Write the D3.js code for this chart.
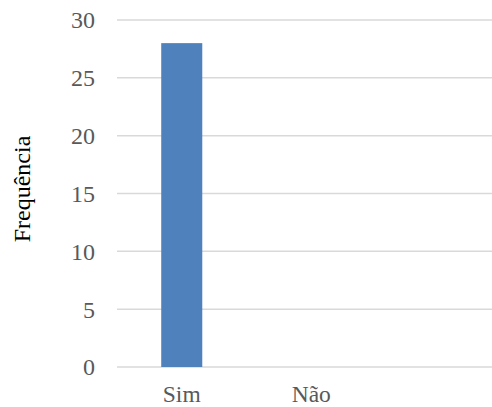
<!DOCTYPE html>
<html><head><meta charset="utf-8">
<script src="https://cdn.jsdelivr.net/npm/d3@7"></script>
<style>body{margin:0;background:#fff}</style>
</head><body>
<svg id="c" width="492" height="407"></svg>
<script>
const categories = ["Sim", "Não", ""];
const values = [28, 0, null];
const yTicks = [0, 5, 10, 15, 20, 25, 30];
const yTitle = "Frequência";

(function(){
const svg = d3.select("#c");
const mLeft = 117, mRight = 505.5, mTop = 20, mBottom = 367;
const x = d3.scaleBand().domain(categories.map((d,i)=>i)).range([mLeft, mRight]).padding(0);
const y = d3.scaleLinear().domain([0, 30]).range([mBottom, mTop]);

svg.append("g").selectAll("line").data(yTicks).join("line")
  .attr("x1", mLeft).attr("x2", 492)
  .attr("y1", d => y(d)).attr("y2", d => y(d))
  .attr("stroke", "#d9d9d9").attr("stroke-width", 1.5);

const barFrac = 0.317;
svg.append("g").selectAll("rect").data(values.map((v,i)=>({v,i})).filter(d=>d.v)).join("rect")
  .attr("x", d => x(d.i) + x.bandwidth()*(1-barFrac)/2)
  .attr("width", x.bandwidth()*barFrac)
  .attr("y", d => y(d.v))
  .attr("height", d => y(0) - y(d.v))
  .attr("fill", "#4f81bd");

svg.append("g").selectAll("text").data(yTicks).join("text")
  .attr("x", 95).attr("y", d => y(d)).attr("dy", "0.35em")
  .attr("text-anchor", "end")
  .attr("font-family", "Liberation Serif, serif").attr("font-size", 24)
  .attr("fill", "#595959").text(d => d);

svg.append("g").selectAll("text").data(categories).join("text")
  .attr("x", (d,i) => x(i) + x.bandwidth()/2).attr("y", 402)
  .attr("text-anchor", "middle")
  .attr("font-family", "Liberation Serif, serif").attr("font-size", 23.5)
  .attr("fill", "#595959").text(d => d);

svg.append("text")
  .attr("transform", `translate(30,189) rotate(-90)`)
  .attr("text-anchor", "middle")
  .attr("font-family", "Liberation Serif, serif").attr("font-size", 24)
  .attr("fill", "#000").text(yTitle);
})();
</script>
</body></html>
